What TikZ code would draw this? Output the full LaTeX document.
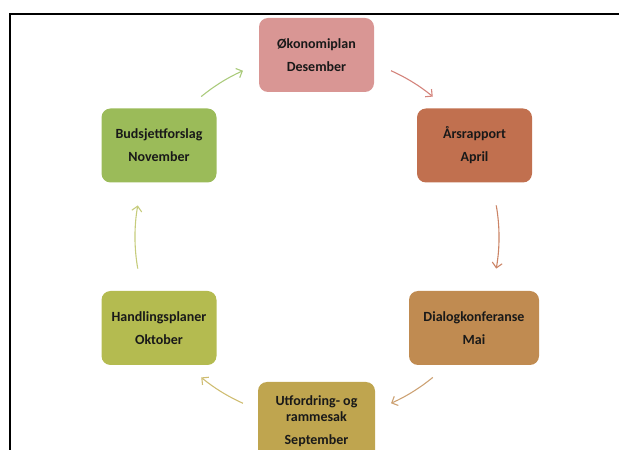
\documentclass[tikz,border=0pt]{standalone}
\usepackage{fontspec}
\setmainfont{Carlito}
\usepackage{xcolor}
\usetikzlibrary{arrows.meta}
\definecolor{Plan Pink}{HTML}{D99694}
\definecolor{Report Rust}{HTML}{C1704F}
\definecolor{Dialog Tan}{HTML}{C08B51}
\definecolor{Frame Gold}{HTML}{BFA54F}
\definecolor{Action Olive}{HTML}{B4BB50}
\definecolor{Budget Green}{HTML}{9BBB59}
\definecolor{Pink Arrow}{HTML}{D4847C}
\definecolor{Rust Arrow}{HTML}{CB8466}
\definecolor{Tan Arrow}{HTML}{CDA274}
\definecolor{Gold Arrow}{HTML}{CFBD72}
\definecolor{Olive Arrow}{HTML}{C6CC7C}
\definecolor{Green Arrow}{HTML}{ABCB7C}

\tikzset{
  phase/.style={rounded corners=9pt, minimum width=115pt, minimum height=74pt,
    align=center, inner sep=2pt, text=black!90,
    font=\bfseries\fontsize{14}{15.5}\selectfont},
  cyclearrow/.style={line width=1.1pt, -{Straight Barb[length=5pt,width=10pt]}}
}

\begin{document}
\begin{tikzpicture}[x=1pt, y=1pt]
    \useasboundingbox (0,0) rectangle (619,450);
    % Frame round the page (only top and left show)
    \draw[line width=2pt] (9.5,0) -- (9.5,436) -- (619,436);

    % Centre of the cycle
    \coordinate (c) at (317,213);

    % The six phases of the year
    \node[phase, fill=Plan Pink] (oko) at (316.5,395) {Økonomiplan\\[7.5pt]Desember};
    \node[phase, fill=Report Rust] (aars) at (474.5,304.5) {Årsrapport\\[7.5pt]April};
    \node[phase, fill=Dialog Tan, minimum width=130pt] (dialog) at (474,122) {Dialogkonferanse\\[7.5pt]Mai};
    \node[phase, fill=Frame Gold, minimum width=117pt, minimum height=78pt] (utf) at (316.5,29)
        {Utfordring- og\\rammesak\\[7.5pt]September};
    \node[phase, fill=Action Olive] (handl) at (159,122) {Handlingsplaner\\[7.5pt]Oktober};
    \node[phase, fill=Budget Green] (budsj) at (159,304.5) {Budsjettforslag\\[7.5pt]November};

    % Arrows along the circle, clockwise
    \foreach \from/\to/\col in {66/50.5/Pink Arrow, 10/-10/Rust Arrow,
        -50.5/-66/Tan Arrow, -114/-129.5/Gold Arrow,
        190/170/Olive Arrow, 129.5/114/Green Arrow} {
        \draw[cyclearrow, color=\col] (c) ++(\from:182) arc[start angle=\from, end angle=\to, radius=182];
    }
\end{tikzpicture}
\end{document}
